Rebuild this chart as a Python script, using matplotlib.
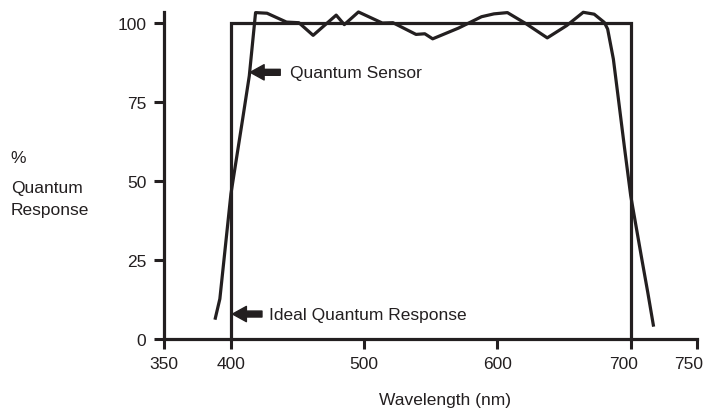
import matplotlib
matplotlib.use('Agg')
import matplotlib.pyplot as plt
from matplotlib.transforms import ScaledTranslation

plt.rcParams['font.family'] = ['Liberation Sans', 'DejaVu Sans']

ink = '#231f20'

# ideal response: a box from 400 to 700 nm
ideal_x = [400, 400, 700, 700]
ideal_y = [0, 100, 100, 0]

# quantum sensor response
sensor_x = [388.3, 391.7, 400, 408.8, 413.8, 418.5, 427.1, 441.7, 451.0, 461.7,
            479.0, 485.1, 495.7, 513.6, 521.6, 538.9, 545.5, 551.4, 570.8, 588.1,
            597.4, 607.5, 621.4, 637.4, 652.0, 664.4, 672.6, 680.2, 682.7, 687.0,
            690.8, 695.3, 700.0, 708.3, 712.8, 717.0]
sensor_y = [6.5, 12.6, 45.8, 69.5, 83.2, 103.2, 103.0, 100.2, 100.0, 96.0,
            102.4, 99.4, 103.4, 99.9, 100.0, 96.3, 96.5, 94.9, 98.3, 101.9,
            102.8, 103.2, 99.7, 95.2, 99.1, 103.3, 102.7, 100.1, 98.0, 88.5,
            75.8, 60.6, 45.3, 25.3, 14.7, 4.3]

xticks = [350, 400, 500, 600, 700, 750]
yticks = [0, 25, 50, 75, 100]

fig = plt.figure(figsize=(7.06, 4.10), dpi=100)
ax = fig.add_axes([0.2327, 0.1715, 0.755, 0.7961])

ax.plot(ideal_x, ideal_y, color=ink, lw=2.3, solid_joinstyle='miter', clip_on=False)
ax.plot(sensor_x, sensor_y, color=ink, lw=2.3, clip_on=False)

ax.set_xlim(350, 750)
ax.set_ylim(0, 103.3)
ax.set_xticks(xticks)
ax.set_yticks(yticks)
for s in ['top', 'right']:
    ax.spines[s].set_visible(False)
for s in ['left', 'bottom']:
    ax.spines[s].set_linewidth(2.3)
    ax.spines[s].set_color(ink)
ax.tick_params(axis='both', direction='out', length=7.5, width=2.2, color=ink,
               labelsize=12.5, labelcolor=ink)
ax.tick_params(axis='y', pad=5.5)
ax.tick_params(axis='x', pad=5)

# the last two x labels sit a little left of their ticks
fig.canvas.draw()
labels = ax.get_xticklabels()
for lab, dx in zip(labels[-2:], [-7, -9]):
    lab.set_transform(lab.get_transform() + ScaledTranslation(dx / 100, 0, fig.dpi_scale_trans))

arrow = dict(facecolor=ink, edgecolor=ink, width=4.3, headwidth=11,
             headlength=10, shrink=0)
ax.annotate('', xy=(414.5, 84.3), xytext=(437, 84.3), arrowprops=arrow)
ax.text(444, 84.3, 'Quantum Sensor', fontsize=12.5, color=ink, va='center', ha='left')
ax.annotate('', xy=(401.2, 7.8), xytext=(423.3, 7.8), arrowprops=arrow)
ax.text(428.3, 7.8, 'Ideal Quantum Response', fontsize=12.5, color=ink,
        va='center', ha='left')

ax.set_xlabel('Wavelength (nm)', fontsize=12.5, color=ink)
ax.xaxis.set_label_coords(0.526, -0.163)

ylab_lines = ['%', 'Quantum', 'Response']
ylab_base = [163.3, 193.3, 215.0]
for txt, py in zip(ylab_lines, ylab_base):
    fig.text(10.7 / 706, 1 - py / 410, txt, fontsize=12.5, color=ink,
             ha='left', va='baseline')

fig.savefig('out.png', dpi=100)
